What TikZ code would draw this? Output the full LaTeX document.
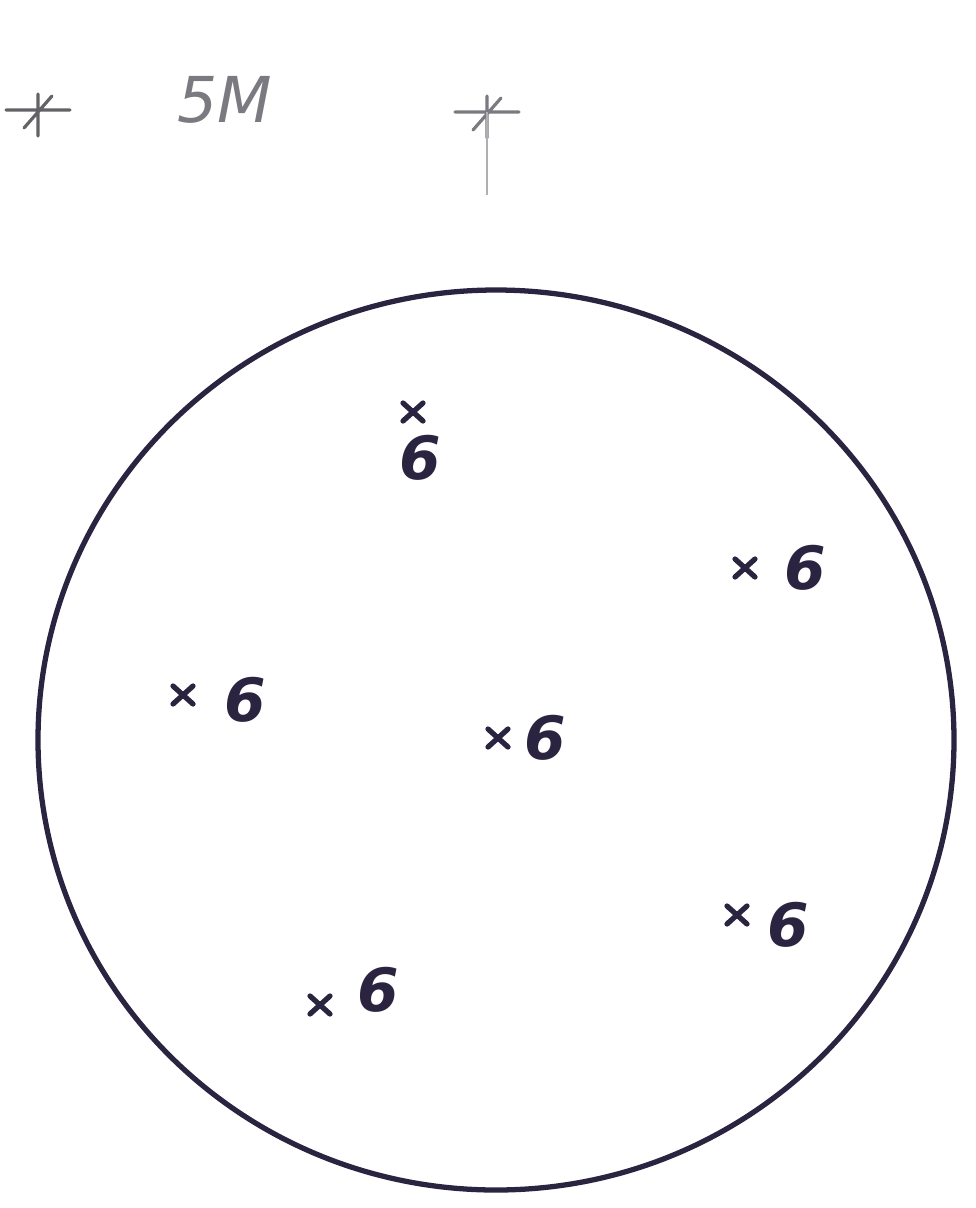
\documentclass[tikz,border=0pt]{standalone}
\usepackage{fontspec}
\setmainfont{DejaVu Sans}
\definecolor{ink}{HTML}{2B2440}
\definecolor{pencil}{HTML}{7A7A80}
\tikzset{
  cross/.pic={\draw[ink,line width=3pt,line cap=round] (-10,-9) -- (10,9) (-10,9) -- (10,-9);},
  asterisk/.pic={\draw[#1,line width=1.8pt,line cap=round] (-32,0) -- (32,0) (0,-16) -- (0,26) (-14,18) -- (14,-14);},
  magn/.style={font=\fontsize{34}{36}\selectfont\bfseries\itshape,text=ink,inner sep=0pt}
}
\begin{document}
\begin{tikzpicture}[x=0.02cm,y=-0.02cm]
  \useasboundingbox (0,0) rectangle (975,1208);
  % top marks
  \pic at (38,110) {asterisk=pencil!80!black};
  \node[font=\fontsize{36}{38}\selectfont\itshape,text=pencil,inner sep=0pt] (lbl) at (225,100) {5M};
  \pic at (487,112) {asterisk=pencil};
  \coordinate (zen) at (487,112);
  \coordinate (zfoot) at (487,195);
  \draw[pencil!60,line width=1pt] (zen) -- (zfoot);
  % field
  \draw[ink,line width=3pt] (496,740) ellipse [x radius=458,y radius=450];
  % stars inside
  \pic at (413,412) {cross};  \node[magn] (s1) at (420,458) {6};
  \pic at (745,568) {cross};  \node[magn] (s2) at (805,568) {6};
  \pic at (183,695) {cross};  \node[magn] (s3) at (245,700) {6};
  \pic at (498,738) {cross};  \node[magn] (s4) at (545,738) {6};
  \pic at (737,915) {cross};  \node[magn] (s5) at (788,925) {6};
  \pic at (320,1005) {cross}; \node[magn] (s6) at (378,990) {6};
\end{tikzpicture}
\end{document}
